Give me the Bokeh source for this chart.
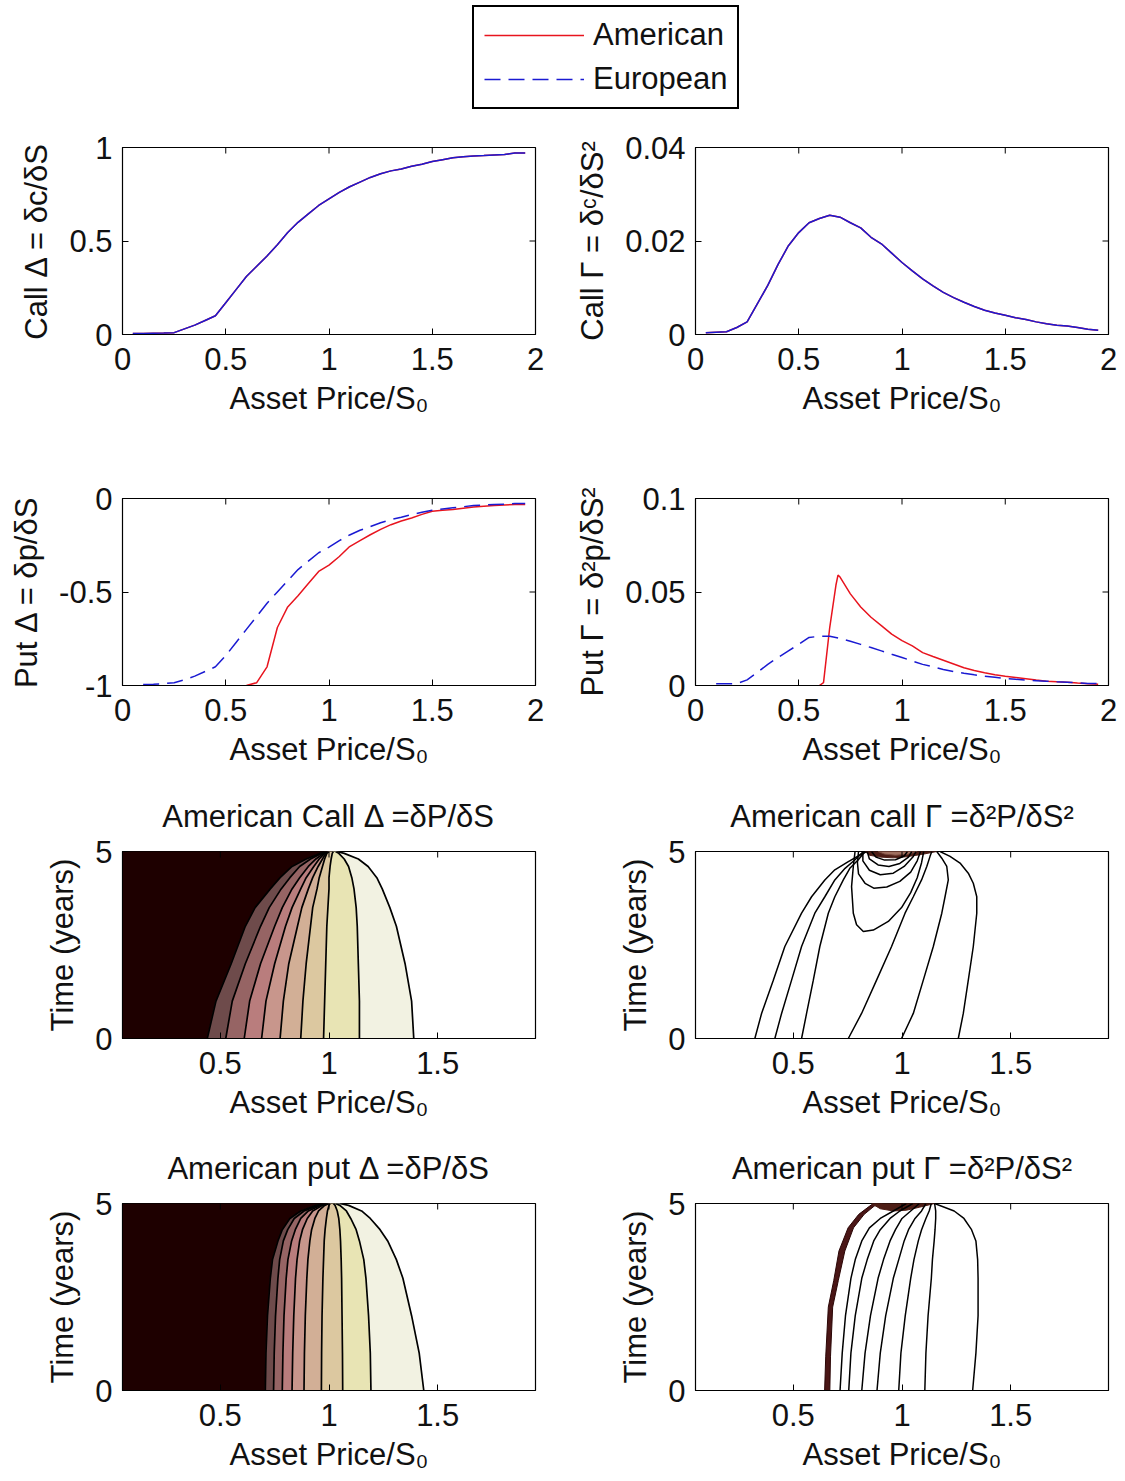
import math
from bokeh.plotting import figure
from bokeh.models import Range1d, FixedTicker, Legend, LegendItem, LinearAxis
from bokeh.layouts import column, row
from bokeh.embed import file_html
from bokeh.resources import INLINE

# ---------------- data: line plots ----------------
S_CALL = [0.05, 0.1, 0.15, 0.2, 0.25, 0.3, 0.35, 0.4, 0.45, 0.5, 0.55, 0.6, 0.65, 0.7, 0.75,
          0.8, 0.85, 0.9, 0.95, 1.0, 1.05, 1.1, 1.15, 1.2, 1.25, 1.3, 1.35, 1.4, 1.45, 1.5,
          1.55, 1.6, 1.65, 1.7, 1.75, 1.8, 1.85, 1.9, 1.95]
CALL_DELTA_AM = [0.005, 0.006, 0.007, 0.008, 0.01, 0.03, 0.05, 0.075, 0.1, 0.17, 0.24, 0.31, 0.365,
                 0.42, 0.48, 0.545, 0.6, 0.645, 0.69, 0.725, 0.76, 0.79, 0.815, 0.84, 0.86, 0.875,
                 0.885, 0.9, 0.91, 0.925, 0.935, 0.945, 0.95, 0.955, 0.957, 0.96, 0.963, 0.97, 0.97]
CALL_DELTA_EU = [0.005, 0.006, 0.007, 0.008, 0.01, 0.03, 0.05, 0.075, 0.1, 0.17, 0.24, 0.31, 0.365,
                 0.42, 0.48, 0.545, 0.6, 0.645, 0.69, 0.725, 0.76, 0.79, 0.815, 0.84, 0.86, 0.875,
                 0.885, 0.9, 0.91, 0.925, 0.935, 0.945, 0.95, 0.955, 0.957, 0.96, 0.963, 0.97, 0.97]
CALL_GAMMA_AM = [0.0004, 0.0005, 0.0006, 0.0015, 0.0027, 0.0066, 0.0105, 0.015, 0.019, 0.0218, 0.0239,
                 0.0248, 0.0255, 0.0251, 0.0239, 0.0228, 0.0208, 0.0194, 0.0174, 0.0154, 0.0136,
                 0.0119, 0.0104, 0.009, 0.0079, 0.0069, 0.006, 0.0052, 0.0046, 0.0041, 0.0036,
                 0.0032, 0.0027, 0.0023, 0.002, 0.0018, 0.0015, 0.0011, 0.0009]
CALL_GAMMA_EU = [0.0004, 0.0005, 0.0006, 0.0015, 0.0027, 0.0066, 0.0105, 0.015, 0.019, 0.0218, 0.0239,
                 0.0248, 0.0255, 0.0251, 0.0239, 0.0228, 0.0208, 0.0194, 0.0174, 0.0154, 0.0136,
                 0.0119, 0.0104, 0.009, 0.0079, 0.0069, 0.006, 0.0052, 0.0046, 0.0041, 0.0036,
                 0.0032, 0.0027, 0.0023, 0.002, 0.0018, 0.0015, 0.0011, 0.0009]

S_PUT_EU = [0.1, 0.15, 0.2, 0.25, 0.3, 0.35, 0.4, 0.45, 0.5, 0.55, 0.6, 0.65, 0.7, 0.75, 0.8, 0.85,
            0.9, 0.95, 1.0, 1.05, 1.1, 1.15, 1.2, 1.25, 1.3, 1.35, 1.4, 1.45, 1.5, 1.55, 1.6, 1.65,
            1.7, 1.75, 1.8, 1.85, 1.9, 1.95]
PUT_DELTA_EU = [-0.995, -0.993, -0.99, -0.985, -0.97, -0.95, -0.925, -0.9, -0.84, -0.77, -0.7, -0.63,
                -0.56, -0.5, -0.44, -0.38, -0.335, -0.29, -0.26, -0.225, -0.195, -0.17, -0.15, -0.13,
                -0.113, -0.1, -0.086, -0.074, -0.063, -0.056, -0.05, -0.044, -0.038, -0.035, -0.032,
                -0.03, -0.027, -0.027]
PUT_GAMMA_EU = [0.001, 0.001, 0.001, 0.003, 0.007, 0.0113, 0.015, 0.0185, 0.022, 0.0257, 0.0263, 0.0263,
                0.0252, 0.0237, 0.022, 0.0203, 0.0185, 0.0167, 0.015, 0.0131, 0.0113, 0.01, 0.0086,
                0.0075, 0.0065, 0.0057, 0.005, 0.0044, 0.0038, 0.0033, 0.0029, 0.0026, 0.0023, 0.002,
                0.0018, 0.0014, 0.0011, 0.001]

S_PUT_DELTA_AM = [0.6, 0.65, 0.7, 0.75, 0.8, 0.85, 0.9, 0.95, 1.0, 1.05, 1.1, 1.15, 1.2, 1.25, 1.3,
                  1.35, 1.4, 1.45, 1.5, 1.55, 1.6, 1.65, 1.7, 1.75, 1.8, 1.85, 1.9, 1.95]
PUT_DELTA_AM = [-1.0, -0.985, -0.9, -0.69, -0.58, -0.52, -0.455, -0.39, -0.356, -0.31, -0.257, -0.225,
                -0.194, -0.165, -0.14, -0.12, -0.104, -0.085, -0.068, -0.063, -0.059, -0.052, -0.045,
                -0.041, -0.038, -0.035, -0.032, -0.032]
S_PUT_GAMMA_AM = [0.6, 0.62, 0.65, 0.68, 0.69, 0.7, 0.75, 0.8, 0.85, 0.9, 0.95, 1.0, 1.05, 1.1, 1.15,
                  1.2, 1.25, 1.3, 1.35, 1.4, 1.45, 1.5, 1.55, 1.6, 1.65, 1.7, 1.75, 1.8, 1.85, 1.9, 1.95]
PUT_GAMMA_AM = [0.0, 0.0015, 0.031, 0.0536, 0.059, 0.058, 0.049, 0.042, 0.0365, 0.032, 0.0275, 0.024,
                0.0212, 0.0176, 0.0155, 0.0135, 0.0115, 0.0095, 0.008, 0.0068, 0.0058, 0.005, 0.0043,
                0.0036, 0.0029, 0.0023, 0.002, 0.0018, 0.0013, 0.0009, 0.0007]

# ---------------- data: contour plots ----------------
S_MIN, S_MAX = 0.05, 1.95
T_MIN, T_MAX = 0.0, 5.0
T_SAMPLES = [0, 1, 2, 3, 3.5, 4, 4.3, 4.6, 4.8, 4.95, 5]

CALL_DELTA_LINES = [
    [0.44, 0.48, 0.55, 0.615, 0.66, 0.73, 0.775, 0.83, 0.895, 0.96, 0.99],
    [0.525, 0.555, 0.615, 0.685, 0.725, 0.78, 0.82, 0.865, 0.915, 0.965, 0.99],
    [0.61, 0.635, 0.685, 0.75, 0.785, 0.83, 0.865, 0.905, 0.94, 0.975, 0.993],
    [0.69, 0.71, 0.75, 0.8, 0.83, 0.87, 0.895, 0.93, 0.955, 0.98, 0.996],
    [0.775, 0.79, 0.815, 0.855, 0.875, 0.905, 0.925, 0.95, 0.97, 0.985, 0.998],
    [0.87, 0.88, 0.895, 0.915, 0.925, 0.945, 0.955, 0.97, 0.98, 0.99, 1.0],
    [0.975, 0.98, 0.985, 0.99, 0.995, 1.0, 1.0, 1.005, 1.01, 1.015, 1.02],
    [1.14, 1.14, 1.135, 1.13, 1.125, 1.115, 1.105, 1.09, 1.07, 1.045, 1.03],
    [1.39, 1.38, 1.35, 1.31, 1.28, 1.245, 1.22, 1.18, 1.135, 1.07, 1.035],
]
PUT_DELTA_LINES = [
    [0.707, 0.71, 0.717, 0.73, 0.74, 0.765, 0.785, 0.82, 0.87, 0.94, 0.985],
    [0.745, 0.748, 0.754, 0.765, 0.773, 0.79, 0.81, 0.84, 0.885, 0.95, 0.99],
    [0.785, 0.788, 0.793, 0.803, 0.811, 0.828, 0.845, 0.87, 0.905, 0.96, 0.995],
    [0.83, 0.833, 0.838, 0.846, 0.853, 0.865, 0.878, 0.9, 0.925, 0.97, 0.998],
    [0.885, 0.887, 0.891, 0.898, 0.903, 0.912, 0.92, 0.935, 0.952, 0.98, 1.0],
    [0.965, 0.966, 0.968, 0.972, 0.975, 0.978, 0.982, 0.988, 0.993, 1.0, 1.005],
    [1.063, 1.062, 1.06, 1.058, 1.056, 1.053, 1.05, 1.045, 1.038, 1.028, 1.02],
    [1.193, 1.19, 1.182, 1.17, 1.16, 1.14, 1.125, 1.1, 1.08, 1.05, 1.03],
    [1.436, 1.415, 1.38, 1.34, 1.31, 1.27, 1.235, 1.19, 1.15, 1.09, 1.05],
]
BAND_COLORS = ["#1e0000", "#6e4b4b", "#966464", "#b97d7d", "#c8968c", "#d2af96",
               "#dcc8a0", "#e8e4b4", "#f2f2e2", "#ffffff"]

# call gamma contour lines: (x list, t list)
CALL_GAMMA_LINES = [
    ([0.323, 0.354, 0.408, 0.461, 0.538, 0.584, 0.645, 0.691, 0.753, 0.799, 0.837],
     [0, 0.67, 1.56, 2.46, 3.35, 3.79, 4.24, 4.51, 4.73, 4.88, 5]),
    ([0.415, 0.446, 0.492, 0.538, 0.599, 0.645, 0.691, 0.738, 0.784, 0.822],
     [0, 0.67, 1.56, 2.46, 3.35, 3.79, 4.24, 4.55, 4.78, 5]),
    ([0.538, 0.561, 0.592, 0.622, 0.661, 0.691, 0.73, 0.76, 0.799, 0.83],
     [0, 0.67, 1.56, 2.46, 3.35, 3.79, 4.24, 4.55, 4.78, 5]),
    ([0.753, 0.814, 0.883, 0.952, 1.014, 1.052, 1.09, 1.114, 1.129, 1.137],
     [0, 0.67, 1.56, 2.46, 3.35, 3.79, 4.24, 4.6, 4.87, 5]),
    ([0.998, 1.052, 1.098, 1.144, 1.183, 1.198, 1.213, 1.206, 1.183, 1.16],
     [0, 0.67, 1.56, 2.46, 3.35, 3.79, 4.24, 4.6, 4.82, 5]),
    ([1.259, 1.282, 1.305, 1.328, 1.344, 1.344, 1.328, 1.305, 1.267, 1.221, 1.175],
     [0, 0.67, 1.56, 2.46, 3.35, 3.79, 4.15, 4.42, 4.69, 4.87, 5]),
    ([0.784, 0.776, 0.768, 0.776, 0.791, 0.822, 0.868, 0.937, 0.998, 1.04, 1.07, 1.09, 1.1],
     [5, 4.6, 4.06, 3.35, 3.04, 2.86, 2.9, 3.13, 3.5, 3.9, 4.3, 4.7, 5]),
    ([0.8, 0.795, 0.8, 0.83, 0.87, 0.93, 0.99, 1.04, 1.07, 1.085],
     [5, 4.7, 4.4, 4.15, 4.02, 4.05, 4.2, 4.45, 4.75, 5]),
    ([0.82, 0.82, 0.85, 0.9, 0.96, 1.01, 1.05, 1.065],
     [5, 4.75, 4.5, 4.38, 4.42, 4.6, 4.85, 5]),
    ([0.84, 0.85, 0.89, 0.94, 0.99, 1.03, 1.045],
     [5, 4.8, 4.64, 4.6, 4.68, 4.85, 5]),
    ([0.86, 0.88, 0.92, 0.97, 1.01, 1.025],
     [5, 4.85, 4.77, 4.78, 4.88, 5]),
]
CALL_GAMMA_BLOB_X = [0.83, 0.85, 0.9, 0.96, 1.02, 1.09, 1.16]
CALL_GAMMA_BLOB_T = [5, 4.9, 4.85, 4.83, 4.86, 4.92, 5]
CALL_GAMMA_CORE_X = [0.89, 0.92, 0.97, 1.03, 1.07]
CALL_GAMMA_CORE_T = [5, 4.93, 4.9, 4.93, 5]

PUT_GAMMA_LINES = [
    ([0.715, 0.725, 0.74, 0.765, 0.785, 0.815, 0.85, 0.9, 0.96, 1.02],
     [0, 1, 2, 3, 3.5, 4, 4.35, 4.6, 4.8, 5]),
    ([0.755, 0.765, 0.785, 0.815, 0.84, 0.87, 0.9, 0.945, 0.99, 1.05],
     [0, 1, 2, 3, 3.5, 4, 4.3, 4.6, 4.8, 5]),
    ([0.815, 0.83, 0.855, 0.89, 0.915, 0.945, 0.97, 1.0, 1.04, 1.08],
     [0, 1, 2, 3, 3.5, 4, 4.3, 4.6, 4.8, 5]),
    ([0.885, 0.9, 0.925, 0.96, 0.985, 1.01, 1.03, 1.06, 1.09, 1.11],
     [0, 1, 2, 3, 3.5, 4, 4.3, 4.6, 4.8, 5]),
    ([0.985, 0.995, 1.015, 1.04, 1.055, 1.075, 1.09, 1.11, 1.125, 1.135],
     [0, 1, 2, 3, 3.5, 4, 4.3, 4.6, 4.8, 5]),
    ([1.105, 1.11, 1.12, 1.135, 1.14, 1.148, 1.152, 1.155, 1.155, 1.15],
     [0, 1, 2, 3, 3.5, 4, 4.3, 4.6, 4.8, 5]),
    ([1.325, 1.34, 1.35, 1.35, 1.348, 1.34, 1.32, 1.285, 1.24, 1.15],
     [0, 1, 2, 3, 3.5, 4, 4.3, 4.6, 4.8, 5]),
]
PUT_GAMMA_EDGE_T = [0, 0.9, 2.23, 2.94, 3.73, 4.35, 4.71, 4.93, 5]
PUT_GAMMA_EDGE_L = [0.644, 0.649, 0.661, 0.686, 0.71, 0.752, 0.801, 0.851, 0.868]
PUT_GAMMA_EDGE_R = [0.668, 0.671, 0.681, 0.707, 0.737, 0.777, 0.826, 0.872, 0.91]
PUT_GAMMA_BLOB_X = [0.86, 0.9, 0.96, 1.02, 1.08, 1.15]
PUT_GAMMA_BLOB_T = [5, 4.86, 4.8, 4.82, 4.9, 5]

# ---------------- ticks ----------------
X_TICKS_LINE = [0, 0.5, 1, 1.5, 2]
X_LABELS_LINE = ["0", "0.5", "1", "1.5", "2"]
X_TICKS_CONT = [0.5, 1, 1.5]
X_LABELS_CONT = ["0.5", "1", "1.5"]
Y_TICKS_CD = [0, 0.5, 1]
Y_LABELS_CD = ["0", "0.5", "1"]
Y_TICKS_CG = [0, 0.02, 0.04]
Y_LABELS_CG = ["0", "0.02", "0.04"]
Y_TICKS_PD = [-1, -0.5, 0]
Y_LABELS_PD = ["-1", "-0.5", "0"]
Y_TICKS_PG = [0, 0.05, 0.1]
Y_LABELS_PG = ["0", "0.05", "0.1"]
Y_TICKS_T = [0, 5]
Y_LABELS_T = ["0", "5"]

FONT = "Liberation Sans"
FS = "31px"
RED = "#e8141e"
BLUE = "#1a1ad2"
DASH = "16 8"
XLABEL = "Asset Price/S\u2080"
TICK_LEN = 6


def style_axis(ax, ticks, labels, standoff, label_standoff):
    ax.ticker = FixedTicker(ticks=ticks, minor_ticks=[])
    ax.major_tick_in = TICK_LEN
    ax.major_tick_out = 0
    ax.minor_tick_line_color = None
    ax.axis_line_color = "black"
    ax.major_tick_line_color = "black"
    ax.major_label_text_font = FONT
    ax.major_label_text_color = "#111111"
    ax.major_label_standoff = standoff
    ax.major_label_text_font_size = FS
    ax.major_label_overrides = {t: l for t, l in zip(ticks, labels)}
    ax.axis_label_text_font = FONT
    ax.axis_label_text_font_size = FS
    ax.axis_label_text_font_style = "normal"
    ax.axis_label_text_color = "#111111"
    ax.axis_label_standoff = label_standoff


def make_panel(width, height, bl, br, bt, bb, xr, yr, xt, xtl, yt, ytl, ylabel, title=None):
    p = figure(width=width, height=height, output_backend="svg", toolbar_location=None,
               x_range=Range1d(*xr), y_range=Range1d(*yr),
               min_border_left=bl, min_border_right=br, min_border_top=bt, min_border_bottom=bb)
    p.grid.visible = False
    p.outline_line_color = "black"
    p.outline_line_width = 1.2
    p.border_fill_color = "white"
    p.background_fill_color = "white"
    style_axis(p.xaxis[0], xt, xtl, 13, 8)
    style_axis(p.yaxis[0], yt, ytl, 10, 12)
    p.xaxis[0].axis_label = XLABEL
    p.yaxis[0].axis_label = ylabel
    if title:
        # title drawn as the label of a tick-less axis above the frame
        tax = LinearAxis(ticker=FixedTicker(ticks=[], minor_ticks=[]), axis_label=title,
                         axis_line_color=None, major_tick_line_color=None,
                         minor_tick_line_color=None, major_label_standoff=0,
                         major_tick_in=0, major_tick_out=0,
                         axis_label_standoff=18, axis_label_text_font=FONT,
                         axis_label_text_font_size=FS, axis_label_text_font_style="normal",
                         axis_label_text_color="#111111")
        p.add_layout(tax, "above")
    return p


def mirror_ticks(p, xt, yt, xr, yr):
    # tick marks on the top and right edges (MATLAB box style)
    p.ray(x=xt, y=[yr[1]] * len(xt), length=TICK_LEN, length_units="screen",
          angle=-math.pi / 2, line_color="black", line_width=1)
    p.ray(x=[xr[1]] * len(yt), y=yt, length=TICK_LEN, length_units="screen",
          angle=math.pi, line_color="black", line_width=1)


def draw_filled(p, lines):
    T = T_SAMPLES
    p.patch([S_MIN] + lines[0] + [S_MIN], [T_MIN] + T + [T_MAX],
            fill_color=BAND_COLORS[0], line_color=BAND_COLORS[0], line_width=0.5)
    for i in range(len(lines) - 1):
        p.patch(lines[i] + lines[i + 1][::-1], T + T[::-1],
                fill_color=BAND_COLORS[i + 1], line_color=BAND_COLORS[i + 1], line_width=0.5)
    for ln in lines:
        p.line(ln, T, line_color="black", line_width=1.7)


W_L, W_R = 562, 563
BL_L, BR_L = 122, 27
BL_R, BR_R = 133, 17

# legend strip (its renderers reuse the series but sit outside the strip's visible range)
lp = figure(width=1125, height=112, output_backend="svg", toolbar_location=None,
            x_axis_type=None, y_axis_type=None, x_range=Range1d(10, 11), y_range=Range1d(10, 11),
            min_border=0)
lp.grid.visible = False
lp.outline_line_color = None
r_am = lp.line(S_CALL, CALL_DELTA_AM, line_color=RED, line_width=1.5)
r_eu = lp.line(S_CALL, CALL_DELTA_EU, line_color=BLUE, line_width=1.5, line_dash=DASH)
legend = Legend(items=[LegendItem(label="American", renderers=[r_am]),
                       LegendItem(label="European", renderers=[r_eu])],
                location=(472, 3), orientation="vertical",
                glyph_width=100, glyph_height=20, label_standoff=9, padding=10, spacing=8,
                label_text_font=FONT, label_text_font_size=FS, label_text_color="#111111",
                border_line_color="black", border_line_width=2, border_line_alpha=1.0,
                background_fill_color="white", background_fill_alpha=1.0, margin=0)
lp.add_layout(legend)

# row 1
H1, BT1, BB1 = 336, 35, 114
p11 = make_panel(W_L, H1, BL_L, BR_L, BT1, BB1, (0, 2), (0, 1), X_TICKS_LINE, X_LABELS_LINE,
                 Y_TICKS_CD, Y_LABELS_CD, "Call \u0394 = \u03b4c/\u03b4S")
p11.line(S_CALL, CALL_DELTA_AM, line_color=RED, line_width=1.5)
p11.line(S_CALL, CALL_DELTA_EU, line_color=BLUE, line_width=1.5)
mirror_ticks(p11, X_TICKS_LINE, Y_TICKS_CD, (0, 2), (0, 1))

p12 = make_panel(W_R, H1, BL_R, BR_R, BT1, BB1, (0, 2), (0, 0.04), X_TICKS_LINE, X_LABELS_LINE,
                 Y_TICKS_CG, Y_LABELS_CG, "Call \u0393 = \u03b4\u1d9c/\u03b4S\u00b2")
p12.line(S_CALL, CALL_GAMMA_AM, line_color=RED, line_width=1.5)
p12.line(S_CALL, CALL_GAMMA_EU, line_color=BLUE, line_width=1.5)
mirror_ticks(p12, X_TICKS_LINE, Y_TICKS_CG, (0, 2), (0, 0.04))

# row 2
H2, BT2, BB2 = 345, 50, 108
p21 = make_panel(W_L, H2, BL_L, BR_L, BT2, BB2, (0, 2), (-1, 0), X_TICKS_LINE, X_LABELS_LINE,
                 Y_TICKS_PD, Y_LABELS_PD, "Put \u0394 = \u03b4p/\u03b4S")
p21.line(S_PUT_DELTA_AM, PUT_DELTA_AM, line_color=RED, line_width=1.5)
p21.line(S_PUT_EU, PUT_DELTA_EU, line_color=BLUE, line_width=1.5, line_dash=DASH)
mirror_ticks(p21, X_TICKS_LINE, Y_TICKS_PD, (0, 2), (-1, 0))

p22 = make_panel(W_R, H2, BL_R, BR_R, BT2, BB2, (0, 2), (0, 0.1), X_TICKS_LINE, X_LABELS_LINE,
                 Y_TICKS_PG, Y_LABELS_PG, "Put \u0393 = \u03b4\u00b2p/\u03b4S\u00b2")
p22.line(S_PUT_GAMMA_AM, PUT_GAMMA_AM, line_color=RED, line_width=1.5)
p22.line(S_PUT_EU, PUT_GAMMA_EU, line_color=BLUE, line_width=1.5, line_dash=DASH)
mirror_ticks(p22, X_TICKS_LINE, Y_TICKS_PG, (0, 2), (0, 0.1))

# row 3
H3, BT3, BB3 = 352, 58, 107
p31 = make_panel(W_L, H3, BL_L, BR_L, BT3, BB3, (S_MIN, S_MAX), (T_MIN, T_MAX), X_TICKS_CONT,
                 X_LABELS_CONT, Y_TICKS_T, Y_LABELS_T, "Time (years)",
                 title="American Call \u0394 =\u03b4P/\u03b4S")
draw_filled(p31, CALL_DELTA_LINES)
mirror_ticks(p31, X_TICKS_CONT, Y_TICKS_T, (S_MIN, S_MAX), (T_MIN, T_MAX))

p32 = make_panel(W_R, H3, BL_R, BR_R, BT3, BB3, (S_MIN, S_MAX), (T_MIN, T_MAX), X_TICKS_CONT,
                 X_LABELS_CONT, Y_TICKS_T, Y_LABELS_T, "Time (years)",
                 title="American call \u0393 =\u03b4\u00b2P/\u03b4S\u00b2")
p32.patch(CALL_GAMMA_BLOB_X, CALL_GAMMA_BLOB_T, fill_color="#4e1e16", line_color="#4e1e16")
p32.patch(CALL_GAMMA_CORE_X, CALL_GAMMA_CORE_T, fill_color="#a07060", line_color="#7a4a3e")
for xs, ts in CALL_GAMMA_LINES:
    p32.line(xs, ts, line_color="black", line_width=1.5)
mirror_ticks(p32, X_TICKS_CONT, Y_TICKS_T, (S_MIN, S_MAX), (T_MIN, T_MAX))

# row 4
H4, BT4, BB4 = 336, 58, 91
p41 = make_panel(W_L, H4, BL_L, BR_L, BT4, BB4, (S_MIN, S_MAX), (T_MIN, T_MAX), X_TICKS_CONT,
                 X_LABELS_CONT, Y_TICKS_T, Y_LABELS_T, "Time (years)",
                 title="American put \u0394 =\u03b4P/\u03b4S")
draw_filled(p41, PUT_DELTA_LINES)
mirror_ticks(p41, X_TICKS_CONT, Y_TICKS_T, (S_MIN, S_MAX), (T_MIN, T_MAX))

p42 = make_panel(W_R, H4, BL_R, BR_R, BT4, BB4, (S_MIN, S_MAX), (T_MIN, T_MAX), X_TICKS_CONT,
                 X_LABELS_CONT, Y_TICKS_T, Y_LABELS_T, "Time (years)",
                 title="American put \u0393 =\u03b4\u00b2P/\u03b4S\u00b2")
p42.patch(PUT_GAMMA_EDGE_L + PUT_GAMMA_EDGE_R[::-1], PUT_GAMMA_EDGE_T + PUT_GAMMA_EDGE_T[::-1],
          fill_color="#4a1616", line_color="#2a0606", line_width=1)
p42.patch(PUT_GAMMA_BLOB_X, PUT_GAMMA_BLOB_T, fill_color="#4e1e16", line_color="#4e1e16")
for xs, ts in PUT_GAMMA_LINES:
    p42.line(xs, ts, line_color="black", line_width=1.5)
mirror_ticks(p42, X_TICKS_CONT, Y_TICKS_T, (S_MIN, S_MAX), (T_MIN, T_MAX))

layout = column(lp, row(p11, p12), row(p21, p22), row(p31, p32), row(p41, p42))
open("out.html", "w").write(file_html(layout, INLINE))
